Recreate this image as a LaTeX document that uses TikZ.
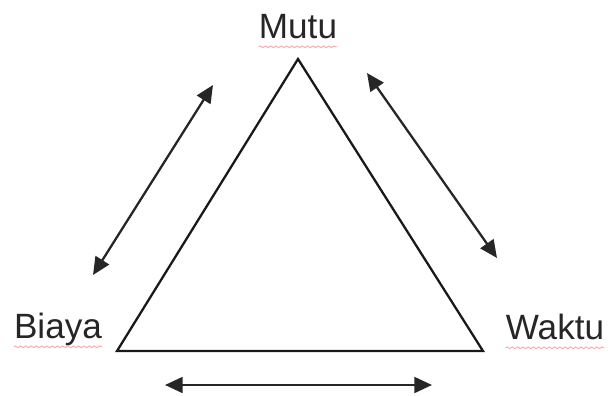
\documentclass[tikz,border=0pt]{standalone}
\usepackage{fontspec}
\setmainfont{Liberation Sans}
\usetikzlibrary{arrows.meta, calc, positioning, decorations.pathmorphing}

\begin{document}
\begin{tikzpicture}[x=0.02cm, y=-0.02cm,
  label/.style={inner sep=0pt, text=black!85, font=\fontsize{20}{24}\selectfont},
  twoway/.style={{Triangle[length=10pt,width=9pt]}-{Triangle[length=10pt,width=9pt]}, line width=1.3pt, draw=black!85},
  squiggle/.style={draw=red!35, line width=0.5pt, decorate, decoration={snake, segment length=3pt, amplitude=0.5pt}}]

\useasboundingbox (0,0) rectangle (610,396);

% Define the coordinates for the vertices of the triangle
\coordinate (B) at (117,351);
\coordinate (W) at (483,351);
\coordinate (M) at (298,59);

% Draw the triangle outline
\draw[line width=1.3pt, draw=black!90] (B) -- (W) -- (M) -- cycle;

% Corner labels
\node[label, anchor=base] (mutu) at (298,38) {Mutu};
\node[label, anchor=base] (biaya) at (58,338) {Biaya};
\node[label, anchor=base] (waktu) at (555,339) {Waktu};

% Spell-check underlines
\draw[squiggle] ([yshift=-5pt]mutu.base west) -- ([yshift=-5pt]mutu.base east);
\draw[squiggle] ([yshift=-5pt]biaya.base west) -- ([yshift=-5pt]biaya.base east);
\draw[squiggle] ([yshift=-5pt]waktu.base west) -- ([yshift=-5pt]waktu.base east);

% End points of the double arrows
\coordinate (left1) at (93,275);
\coordinate (left2) at (213,85);
\coordinate (right1) at (367,73);
\coordinate (right2) at (497,258);
\coordinate (base1) at (165,385);
\coordinate (base2) at (432,385);

% Draw the double arrows
\draw[twoway] (left1) -- (left2);
\draw[twoway] (right1) -- (right2);
\draw[twoway] (base1) -- (base2);

\end{tikzpicture}
\end{document}
